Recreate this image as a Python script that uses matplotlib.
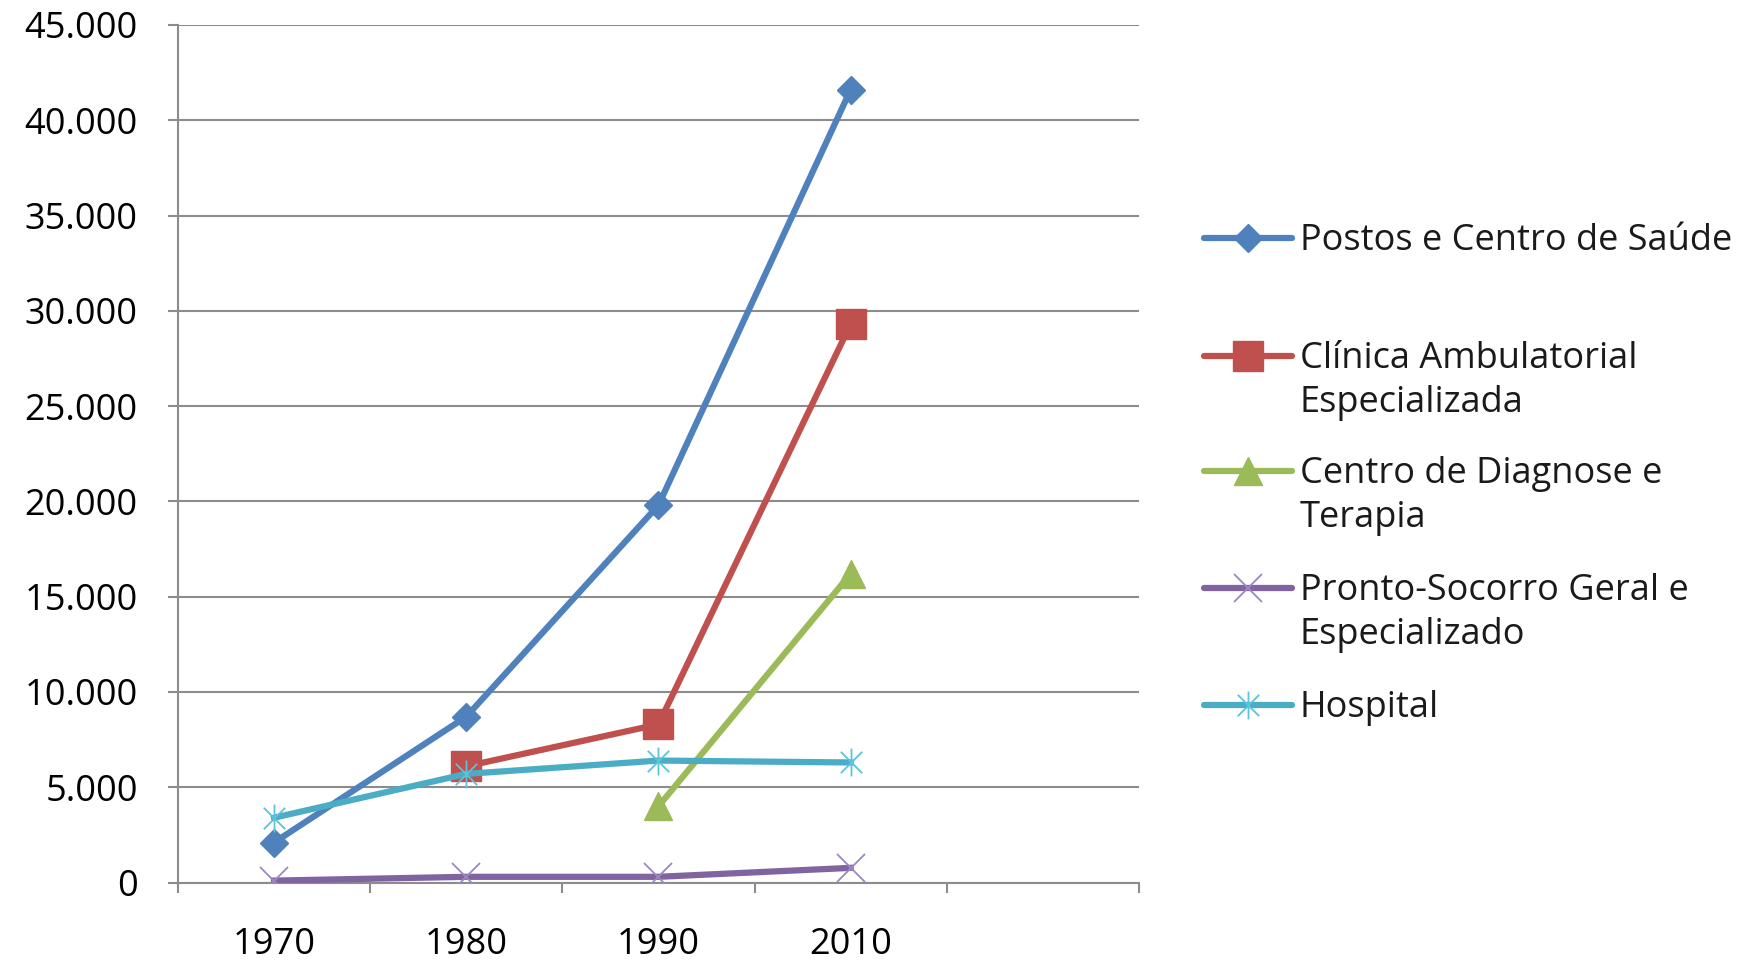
import matplotlib
matplotlib.use("Agg")
import matplotlib.pyplot as plt
from matplotlib.path import Path
from matplotlib.lines import Line2D

plt.rcParams['font.family'] = ['Open Sans', 'DejaVu Sans']

anos = ["1970", "1980", "1990", "2010"]
postos = [2100, 8700, 19800, 41600]
clinica = [None, 6100, 8300, 29300]
diagnose = [None, None, 4000, 16200]
pronto_socorro = [100, 300, 300, 770]
hospital = [3400, 5700, 6400, 6300]

nomes = ["Postos e Centro de Saúde",
         "Clínica Ambulatorial\nEspecializada",
         "Centro de Diagnose e\nTerapia",
         "Pronto-Socorro Geral e\nEspecializado",
         "Hospital"]
cores = ["#4F81BD", "#C0504D", "#9BBB59", "#8064A2", "#4BACC6"]
cores_marcador = ["#4F81BD", "#C0504D", "#9BBB59", "#9E86C4", "#5BC3DC"]

# asterisco estilo Excel: um "x" com um traço vertical
asterisco = Path([(-1, -1), (1, 1), (-1, 1), (1, -1), (0, -1.3), (0, 1.3)],
                 [Path.MOVETO, Path.LINETO, Path.MOVETO, Path.LINETO,
                  Path.MOVETO, Path.LINETO])

estilos = [dict(marker='D', markersize=14),
           dict(marker='s', markersize=22),
           dict(marker='^', markersize=20),
           dict(marker='x', markersize=20, markeredgewidth=1.3),
           dict(marker=asterisco, markersize=20, markeredgewidth=1.3)]

series = [postos, clinica, diagnose, pronto_socorro, hospital]
tam = 26

fig = plt.figure(figsize=(17.65, 9.6), dpi=100)
ax = fig.add_axes([0.1008, 0.0807, 0.5445, 0.8933])

x = list(range(len(anos)))
for i, (vals, cor, cm, est) in enumerate(zip(series, cores, cores_marcador, estilos)):
    xs = [xi for xi, v in zip(x, vals) if v is not None]
    ys = [v for v in vals if v is not None]
    ax.plot(xs, ys, color=cor, linewidth=4.5, markerfacecolor=cm,
            markeredgecolor=cm, zorder=3 + i, **est)

ax.set_xlim(-0.5, 4.5)
ax.set_ylim(0, 45000)
ax.set_yticks(range(0, 45001, 5000))
ax.set_yticklabels([f"{v:,}".replace(",", ".") for v in range(0, 45001, 5000)])
ax.yaxis.grid(True, color="#8c8c8c", linewidth=1.5)
ax.set_axisbelow(True)

ax.set_xticks([-0.5, 0.5, 1.5, 2.5, 3.5, 4.5])
ax.set_xticklabels([])
ax.set_xticks(x, minor=True)
ax.set_xticklabels(anos, minor=True)
ax.tick_params(axis='x', which='major', length=7, width=1.5, color="#8c8c8c")
ax.tick_params(axis='x', which='minor', length=0, pad=32, labelsize=tam)
ax.tick_params(axis='y', length=7, width=1.5, color="#8c8c8c", pad=22, labelsize=tam)

for lado in ["top", "right"]:
    ax.spines[lado].set_visible(False)
for lado in ["left", "bottom"]:
    ax.spines[lado].set_color("#8c8c8c")
    ax.spines[lado].set_linewidth(1.5)

# legenda desenhada à mão, com o marcador alinhado à primeira linha do texto
W, H = 1765, 960
ys_leg = [238, 356, 471, 588, 705]
for nome, cor, cm, est, yp in zip(nomes, cores, cores_marcador, estilos, ys_leg):
    yf = 1 - yp / H
    fig.add_artist(Line2D([1204 / W, 1292 / W], [yf, yf], transform=fig.transFigure,
                          color=cor, linewidth=4.5, solid_capstyle='round'))
    fig.add_artist(Line2D([1248 / W], [yf], transform=fig.transFigure, color=cor,
                          markerfacecolor=cm, markeredgecolor=cm, **est))
    fig.text(1300 / W, 1 - (yp - 15) / H, nome, fontsize=tam, va='top', ha='left',
             linespacing=1.3, color="#1a1a1a")

fig.savefig("out.png", dpi=100)
